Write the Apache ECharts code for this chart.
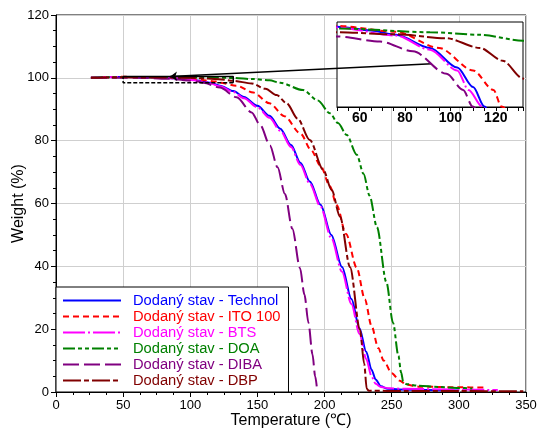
<!DOCTYPE html>
<html>
<head>
<meta charset="utf-8">
<script src="https://cdn.jsdelivr.net/npm/echarts@6/dist/echarts.min.js"></script>
<style>
  html, body { margin: 0; padding: 0; background: #fff; }
  #chart { width: 539px; height: 430px; }
</style>
</head>
<body>
<div id="chart"></div>
<script>
var dom = document.getElementById("chart");
var myChart = echarts.init(dom);

// [temperature, weight]
var technol = [[26,100],[40,100.25],[50,100.29],[65,100.2],[76,100.1],[91,99.79],[103,99.33],[110,98.87],[115,98.41],[122,97.5],[132,95.8],[140,93.9],[150,91.1],[159,87.9],[167,83.8],[175,78.6],[182,73],[189,67],[197,59.6],[205,50],[213,39.8],[220,29.6],[226,20.3],[231,12.8],[235,7.1],[238,4],[242,1.8],[247,1.05],[255,0.8],[275,0.6],[300,0.5]];
var ito100 = [[26,100],[40,100.25],[50,100.31],[76,100.17],[95,99.79],[110,99.26],[119,98.8],[122.5,98.41],[134.5,97.5],[147,95.3],[159,91.9],[170,87.8],[182,82.3],[190,77],[197,72],[204,65.5],[209,59.5],[216,50.3],[224,39.5],[230,29.5],[235,21],[240,14],[244,10],[250,6],[256,3.6],[261,2.3],[270,1.7],[300,1.5],[320,1.4]];
var bts = [[26,100],[40,100.22],[50,100.27],[76,100.08],[91,99.75],[103,99.26],[108,98.8],[114,98.41],[122,97.3],[132,95.5],[140,93.5],[150,90.6],[159,87.3],[167,83.2],[175,78],[182,72.3],[189,66.3],[197,59],[205,49],[213,38.3],[220,28],[226,18.5],[231,10.5],[235,5],[238,2.6],[242,1.6],[248,1.2],[260,1.0],[300,0.8],[329,0.6]];
var doa = [[26,100],[40,100.2],[50,100.25],[91,100.16],[113,100.1],[132,99.96],[147,99.6],[159,99.2],[167,98.4],[184,96.1],[195,92.8],[204,88.7],[210,85.6],[216.5,81.8],[224,75.5],[229,69.5],[233.5,62.5],[239,52.5],[246,35],[251,22],[255,11.5],[257,6.2],[258.6,3.3],[261,2.5],[270,2.0],[285,1.6],[300,1.3],[310,1.1]];
var diba = [[26,100],[40,100.02],[50,100.06],[69,99.94],[83.5,99.71],[98.3,99.18],[105.6,98.8],[109.8,98.41],[122,96.9],[134.5,93.8],[145.7,89],[152,85],[159.3,78.5],[165,71.5],[170.5,63],[176,52],[181.7,39.5],[185,31],[188,22],[191,12],[193,5],[194.5,0.5]];
var dbp = [[26,100],[40,100.1],[50,100.16],[76,100.11],[98,100.02],[113,99.79],[123,99.49],[132,99.07],[145.7,98.2],[156,96.5],[164.3,94.5],[171.8,91.9],[180,87],[189,80.2],[199,70.7],[205.3,64.3],[211.5,55.8],[219,39.7],[226.4,19.7],[229.5,9],[231.4,1],[233,0.4],[260,0.3],[300,0.3],[348,0.2]];

var names = ['Dodaný stav - Technol', 'Dodaný stav - ITO 100', 'Dodaný stav - BTS',
             'Dodaný stav - DOA', 'Dodaný stav - DIBA', 'Dodaný stav - DBP'];
var colors = ['#0000ff', '#ff0000', '#ff00ff', '#008000', '#800080', '#800000'];
var dashes = ['solid', [6, 4], [22, 3, 2, 3], [12, 3, 4, 3, 4, 3], [16, 5], [18, 3, 5, 3]];
var dataSets = [technol, ito100, bts, doa, diba, dbp];

var xTicks = [0, 350, 50];
var yTicks = [0, 120, 20];
var zoomX = [50, 132];
var zoomY = [98.4, 100.4];

// zoom box and callout line
var boxTop = [[50,100.4],[132,100.4],[132,98.4]];
var boxBottom = [[132,98.4],[50,98.4],[50,100.4]];
var callout = [[85,100.4],[280,104.5]];

var series = [];
for (var i = 0; i < dataSets.length; i++) {
    var base = {
        name: names[i],
        type: 'line',
        showSymbol: false,
        symbol: 'none',
        smooth: 0.3,
        smoothMonotone: 'x',
        color: colors[i],
        lineStyle: { color: colors[i], width: 2, type: dashes[i] },
        data: dataSets[i]
    };
    series.push(Object.assign({}, base, { xAxisIndex: 0, yAxisIndex: 0, z: 2 }));
    series.push(Object.assign({}, base, { xAxisIndex: 1, yAxisIndex: 1, z: 6 }));
}
series.push({
    type: 'line', xAxisIndex: 0, yAxisIndex: 0, symbol: 'none', z: 7,
    lineStyle: { color: '#000', width: 1.5 }, data: boxTop
});
series.push({
    type: 'line', xAxisIndex: 0, yAxisIndex: 0, symbol: 'none', z: 7,
    lineStyle: { color: '#000', width: 1.5, type: [4, 2] }, data: boxBottom
});
series.push({
    type: 'line', xAxisIndex: 0, yAxisIndex: 0, symbol: 'none', z: 7,
    data: [],
    markLine: {
        silent: true, symbol: ['arrow', 'none'], symbolSize: 7,
        label: { show: false },
        lineStyle: { color: '#000', width: 1.5, type: 'solid' },
        data: [[{ coord: callout[0] }, { coord: callout[1] }]]
    }
});

var option = {
    animation: false,
    textStyle: { fontFamily: 'Liberation Sans, Arial, sans-serif' },
    grid: [
        { left: 56, right: 13, top: 15, bottom: 38, show: true, borderColor: '#000', borderWidth: 1,
          z: 0, outerBoundsMode: 'none', containLabel: false },
        { left: 337, top: 22, width: 186, height: 85, show: true, backgroundColor: '#fff',
          borderColor: '#000', borderWidth: 1, z: 5, outerBoundsMode: 'none', containLabel: false }
    ],
    legend: {
        orient: 'vertical',
        left: 56, top: 287,
        padding: [6, 8, 4, 6],
        backgroundColor: '#fff',
        borderColor: '#000',
        borderWidth: 1,
        itemWidth: 58,
        itemHeight: 10,
        itemGap: 1,
        z: 8,
        itemStyle: { opacity: 0 },
        textStyle: { fontSize: 14.7, lineHeight: 15, padding: [0, 0, 0, 7] },
        data: names.map(function (n, i) {
            return { name: n, textStyle: { color: colors[i] } };
        })
    },
    xAxis: [{
        type: 'value', gridIndex: 0,
        min: xTicks[0], max: xTicks[1], interval: xTicks[2],
        name: 'Temperature (℃)', nameLocation: 'middle', nameGap: 21, nameMoveOverlap: false,
        nameTextStyle: { fontSize: 16, color: '#000' },
        axisLine: { lineStyle: { color: '#000' } },
        axisTick: { length: 5, lineStyle: { color: '#000' } },
        minorTick: { show: true, splitNumber: 4, length: 3, lineStyle: { color: '#000' } },
        axisLabel: { fontSize: 13, color: '#000', margin: 7 },
        splitLine: { show: true, lineStyle: { color: '#cfcfcf' } }
    }, {
        type: 'value', gridIndex: 1,
        min: zoomX[0], max: zoomX[1], interval: 10, z: 6,
        axisLine: { lineStyle: { color: '#000' } },
        axisTick: { length: 4, lineStyle: { color: '#000' } },
        minorTick: { show: true, splitNumber: 2, length: 4, lineStyle: { color: '#000' } },
        axisLabel: {
            fontSize: 14, fontWeight: 'bold', color: '#000', margin: 4,
            formatter: function (v) { return v % 20 === 0 ? v : ''; }
        },
        splitLine: { show: false }
    }],
    yAxis: [{
        type: 'value', gridIndex: 0,
        min: yTicks[0], max: yTicks[1], interval: yTicks[2],
        name: 'Weight (%)', nameLocation: 'middle', nameGap: 29, nameMoveOverlap: false,
        nameTextStyle: { fontSize: 16, color: '#000' },
        axisLine: { lineStyle: { color: '#000' } },
        axisTick: { length: 5, lineStyle: { color: '#000' } },
        minorTick: { show: true, splitNumber: 4, length: 3, lineStyle: { color: '#000' } },
        axisLabel: { fontSize: 13, color: '#000', margin: 7 },
        splitLine: { show: true, lineStyle: { color: '#cfcfcf' } }
    }, {
        type: 'value', gridIndex: 1,
        min: zoomY[0], max: zoomY[1], z: 6,
        axisLine: { show: false }, axisTick: { show: false },
        axisLabel: { show: false }, splitLine: { show: false }
    }],
    series: series
};

myChart.setOption(option);
</script>
</body>
</html>
